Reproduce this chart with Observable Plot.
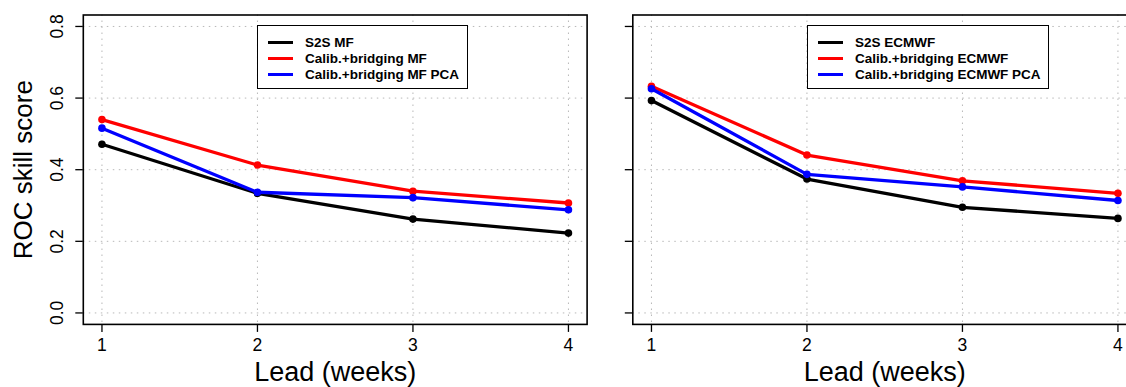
<!DOCTYPE html>
<html><head><meta charset="utf-8">
<script src="https://cdn.jsdelivr.net/npm/d3@7"></script>
<script src="https://cdn.jsdelivr.net/npm/@observablehq/plot@0.6"></script>
<style>
html,body{margin:0;padding:0;background:#fff;overflow:hidden;width:1126px;height:387px}
#wrap{position:relative;width:1126px;height:387px;overflow:hidden;font-family:"Liberation Sans",Arial,Helvetica,sans-serif}
.panel{position:absolute;top:0}
.legend{position:absolute;border:1.5px solid #000;background:#fff;box-sizing:border-box;font-weight:bold;font-size:13.5px;color:#000;font-family:"Liberation Sans",Arial,Helvetica,sans-serif}
.legend .row{position:absolute;left:0;height:16px;display:flex;align-items:center;white-space:nowrap}
.legend .sw{display:inline-block;width:25px;height:0;border-top:3px solid;margin-left:10px;margin-right:12px}
</style></head>
<body><div id="wrap"></div>
<script>
// ---- data ----
const leads = [1, 2, 3, 4];
const yTicks = [0, 0.2, 0.4, 0.6, 0.8];
const seriesColors = ["black", "red", "blue"];

const mfNames = ["S2S MF", "Calib.+bridging MF", "Calib.+bridging MF PCA"];
const mfS2S   = [0.471, 0.334, 0.262, 0.223];
const mfCalib = [0.540, 0.413, 0.340, 0.307];
const mfPCA   = [0.516, 0.337, 0.322, 0.288];

const ecNames = ["S2S ECMWF", "Calib.+bridging ECMWF", "Calib.+bridging ECMWF PCA"];
const ecS2S   = [0.593, 0.374, 0.295, 0.264];
const ecCalib = [0.633, 0.441, 0.369, 0.334];
const ecPCA   = [0.626, 0.387, 0.352, 0.314];

const xLabel = "Lead (weeks)";
const yLabel = "ROC skill score";

// ---- drawing ----
const FONT = '"Liberation Sans", Arial, Helvetica, sans-serif';
const TOP = 14.5, BOTTOM = 323.9, H = 387;

function panel(names, series, o) {
  const marks = [
    Plot.gridX(leads, {stroke: "#b8b8b8", strokeOpacity: 1, strokeWidth: 1, strokeDasharray: "1.5,4.5"}),
    Plot.gridY(yTicks, {stroke: "#b8b8b8", strokeOpacity: 1, strokeWidth: 1, strokeDasharray: "1.5,4.5"}),
    Plot.axisX(leads, {tickSize: 8, tickPadding: 6, fontSize: 17.5, label: null, strokeWidth: 1.3, tickFormat: d => String(d)}),
    Plot.axisY(yTicks, {tickSize: 7.5, label: null, strokeWidth: 1.3, tickFormat: () => ""}),
    Plot.frame({stroke: "black", strokeWidth: 1.6}),
    Plot.text([xLabel], {text: d => d, frameAnchor: "bottom", dy: 48, fontSize: 27, textAnchor: "middle", lineAnchor: "middle"})
  ];
  if (o.yLabels) {
    marks.push(Plot.text(yTicks, {y: d => d, text: d => d.toFixed(1), frameAnchor: "left", rotate: -90, dx: -25.5, fontSize: 17.5, textAnchor: "middle", lineAnchor: "middle"}));
    marks.push(Plot.text([yLabel], {text: d => d, frameAnchor: "left", rotate: -90, dx: 23 - o.ml, fontSize: 26, textAnchor: "middle", lineAnchor: "middle"}));
  }
  series.forEach((vals, s) => {
    const rows = vals.map((v, i) => ({lead: leads[i], v, s: names[s]}));
    marks.push(Plot.line(rows, {x: "lead", y: "v", stroke: "s", strokeWidth: 3.3}));
    marks.push(Plot.dot(rows, {x: "lead", y: "v", fill: "s", r: 3.8}));
  });
  const svg = Plot.plot({
    width: o.width, height: H,
    marginLeft: o.ml, marginRight: o.mr, marginTop: TOP, marginBottom: H - BOTTOM,
    style: {fontFamily: FONT, background: "transparent", overflow: "visible", maxWidth: "none", color: "black"},
    x: {domain: [0.88, 4.12]},
    y: {domain: [-0.032, 0.832]},
    color: {domain: names, range: seriesColors},
    marks
  });
  const div = document.createElement("div");
  div.className = "panel";
  div.style.left = o.left + "px";
  div.appendChild(svg);
  return div;
}

function legend(names, o) {
  const lg = document.createElement("div");
  lg.className = "legend";
  Object.assign(lg.style, {left: o.left + "px", top: o.top + "px", width: o.width + "px", height: o.height + "px"});
  names.forEach((n, i) => {
    const row = document.createElement("div");
    row.className = "row";
    row.style.top = (18 + 16 * i - 8 - 1.5) + "px";
    const sw = document.createElement("span");
    sw.className = "sw";
    sw.style.borderTopColor = seriesColors[i];
    const t = document.createElement("span");
    t.textContent = n;
    row.appendChild(sw); row.appendChild(t);
    lg.appendChild(row);
  });
  return lg;
}

const wrap = document.getElementById("wrap");
wrap.appendChild(panel(mfNames, [mfS2S, mfCalib, mfPCA], {left: 0, width: 600, ml: 82.8, mr: 13.4, yLabels: true}));
wrap.appendChild(panel(ecNames, [ecS2S, ecCalib, ecPCA], {left: 600, width: 540, ml: 32.3, mr: 3.9, yLabels: false}));
wrap.appendChild(legend(mfNames, {left: 257, top: 25, width: 211, height: 64}));
wrap.appendChild(legend(ecNames, {left: 807, top: 25, width: 242, height: 64}));
</script>
</body></html>
